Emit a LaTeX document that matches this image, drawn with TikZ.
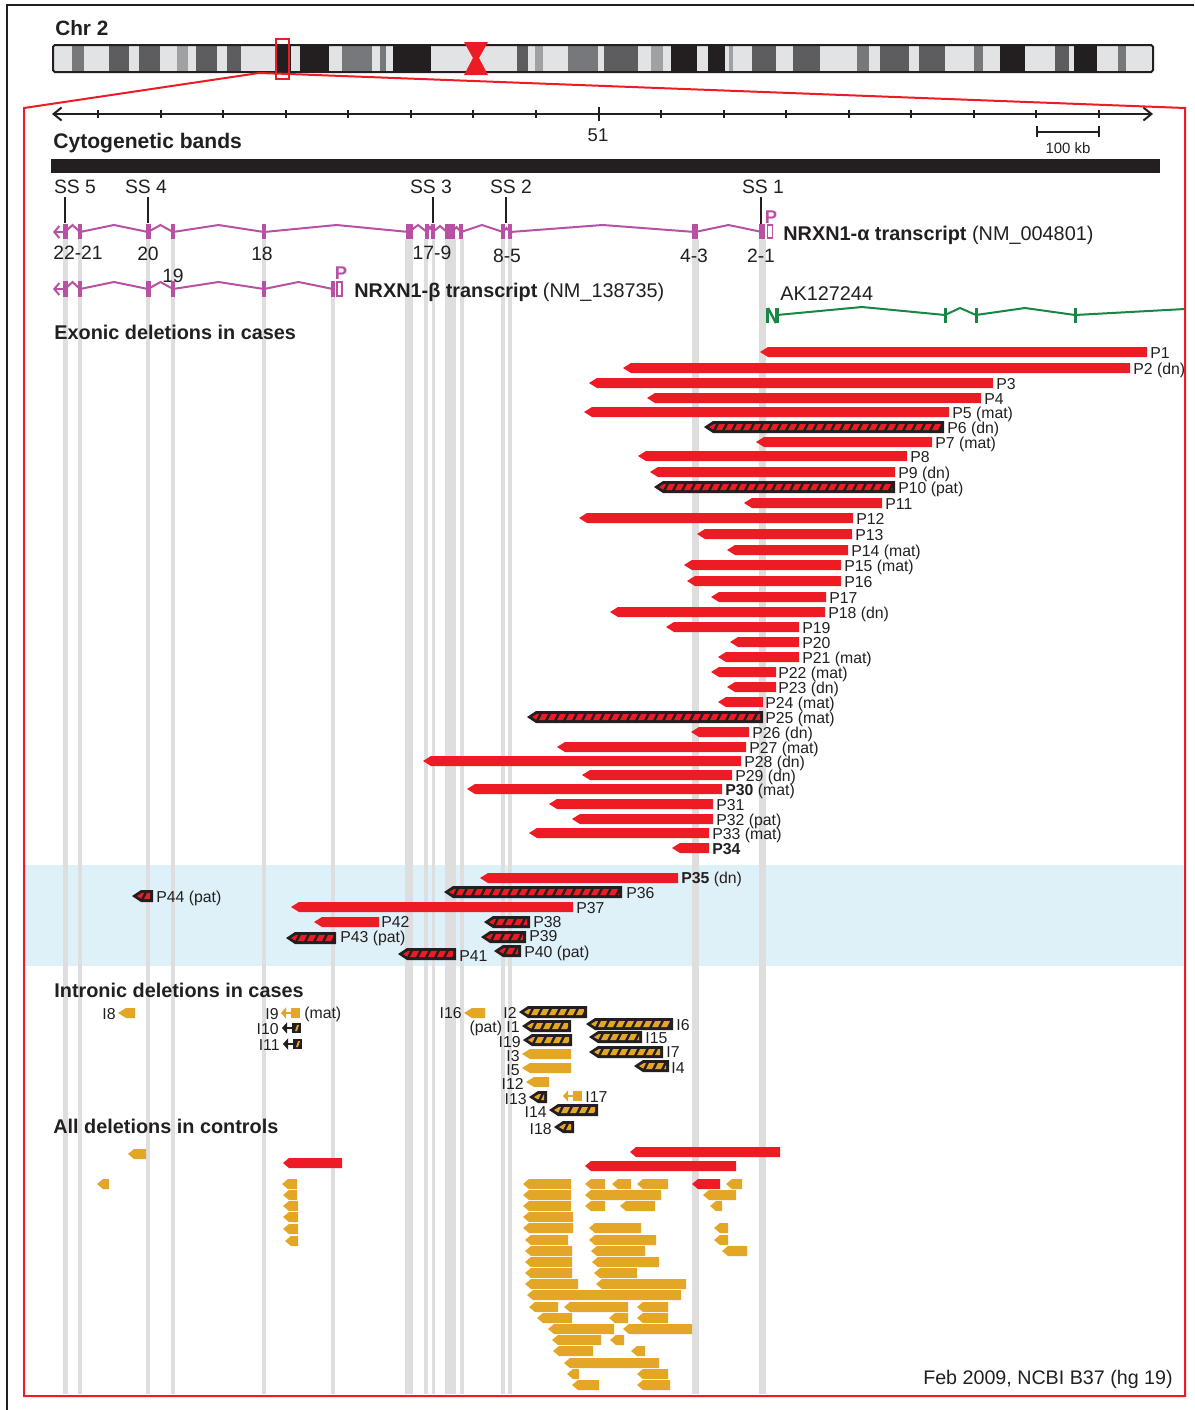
\documentclass[tikz,border=0pt]{standalone}
\usepackage{fontspec}
\setmainfont{Liberation Sans}
\usetikzlibrary{arrows.meta}

\definecolor{delred}{RGB}{237,28,36}
\definecolor{ctlorange}{RGB}{227,166,38}
\definecolor{darkbar}{RGB}{35,31,32}
\definecolor{trxmag}{RGB}{184,80,164}
\definecolor{akgreen}{RGB}{24,134,68}
\definecolor{bandblue}{RGB}{223,241,248}
\definecolor{guidegray}{RGB}{222,222,222}
\definecolor{chrlight}{RGB}{226,227,229}
\definecolor{chrmid}{RGB}{160,161,164}
\definecolor{chrgray}{RGB}{119,120,123}
\definecolor{chrdark}{RGB}{93,93,95}

% deletion bar pointing left: [colour](left:right:y)
\def\delbar[#1](#2:#3:#4){\fill[#1] (#2,#4) -- (#2+8,#4-5) -- (#3,#4-5) -- (#3,#4+5) -- (#2+8,#4+5) -- cycle;}
\def\ctlbar[#1](#2:#3:#4){\fill[#1] (#2,#4) -- (#2+6,#4-5) -- (#3,#4-5) -- (#3,#4+5) -- (#2+6,#4+5) -- cycle;}
% dark bar with slanted stripes: [stripe colour](left:right:y)
\def\hatchbar[#1](#2:#3:#4){%
  \fill[darkbar] (#2,#4) -- (#2+9,#4-6) -- (#3,#4-6) -- (#3,#4+6) -- (#2+9,#4+6) -- cycle;
  \begin{scope}
    \clip (#2+5,#4) -- (#2+10,#4-3) -- (#3-3,#4-3) -- (#3-3,#4+3) -- (#2+10,#4+3) -- cycle;
    \pgfmathtruncatemacro\nstripe{(#3-#2)/9+1}
    \foreach \k in {0,...,\nstripe}
      \fill[#1] ({#2+3+9*\k},#4+3) -- ++(6,0) -- ++(3,-6) -- ++(-6,0) -- cycle;
  \end{scope}}
% little arrow with box: [box colour][mark colour](right:y)
\def\boxarrow[#1][#2](#3:#4){%
  \fill[#1] (#3-9,#4-5) rectangle (#3,#4+5);
  \fill[#2] (#3-6,#4+3) -- (#3-4,#4+3) -- (#3-2,#4-3) -- (#3-4,#4-3) -- cycle;
  \draw[#1, line width=0.5mm, -{Triangle[length=1mm,width=2.2mm]}] (#3-9,#4) -- (#3-19,#4);}

\tikzset{
  plab/.style={font=\fontsize{9}{10}\selectfont, text=darkbar, inner sep=0pt, anchor=base west, yshift=-1.3mm},
  plabl/.style={plab, anchor=base east},
  numlab/.style={font=\fontsize{11}{13}\selectfont, text=darkbar, inner sep=0pt},
  head/.style={font=\bfseries\fontsize{11.3}{13}\selectfont, text=darkbar, inner sep=0pt, anchor=base west},
  trx/.style={trxmag, line width=0.4mm},
}

\begin{document}
\begin{tikzpicture}[x=0.02cm, y=-0.02cm]
%%%%% START %%%%%
\useasboundingbox (0,0) rectangle (1194,1410);

\draw[darkbar, line width=0.4mm] (7,1410) -- (7,5) -- (1194,5);

% chromosome 2
\fill[chrlight] (53,45) rectangle (1153,72);
\fill[chrgray] (72,45) rectangle (84,72);
\fill[chrdark] (109,45) rectangle (129,72);
\fill[chrdark] (139,45) rectangle (160,72);
\fill[chrmid] (177,45) rectangle (188,72);
\fill[chrdark] (196,45) rectangle (217,72);
\fill[chrdark] (227,45) rectangle (241,72);
\fill[darkbar] (276,45) rectangle (291,72);
\fill[darkbar] (300,45) rectangle (329,72);
\fill[chrgray] (342,45) rectangle (372,72);
\fill[chrgray] (380,45) rectangle (386,72);
\fill[darkbar] (393,45) rectangle (431,72);
\fill[chrdark] (517,45) rectangle (528,72);
\fill[chrmid] (535,45) rectangle (543,72);
\fill[chrgray] (568,45) rectangle (598,72);
\fill[chrdark] (604,45) rectangle (638,72);
\fill[chrmid] (651,45) rectangle (663,72);
\fill[darkbar] (671,45) rectangle (697,72);
\fill[darkbar] (708,45) rectangle (725,72);
\fill[chrmid] (729,45) rectangle (733,72);
\fill[chrdark] (752,45) rectangle (776,72);
\fill[chrdark] (793,45) rectangle (820,72);
\fill[chrgray] (857,45) rectangle (869,72);
\fill[chrdark] (880,45) rectangle (909,72);
\fill[chrdark] (919,45) rectangle (945,72);
\fill[chrgray] (974,45) rectangle (983,72);
\fill[darkbar] (1000,45) rectangle (1025,72);
\fill[chrdark] (1055,45) rectangle (1069,72);
\fill[darkbar] (1074,45) rectangle (1097,72);
\fill[chrgray] (1118,45) rectangle (1126,72);
\draw[darkbar, line width=0.4mm, rounded corners=1pt] (53,45) rectangle (1153,72);
\fill[delred] (464,42) -- (488,42) -- (479,58) -- (488,75) -- (464,75) -- (473,58) -- cycle;
\node[head, font=\bfseries\fontsize{11.8}{14}\selectfont] (chr) at (55,35) {Chr 2};

% light blue band and exon guides
\fill[bandblue] (25,865) rectangle (1184,966);
\fill[guidegray] (62.5,239) rectangle (67.5,1394);
\fill[guidegray] (78,239) rectangle (82,1394);
\fill[guidegray] (146,239) rectangle (150,1394);
\fill[guidegray] (171,239) rectangle (175,1394);
\fill[guidegray] (262,239) rectangle (266,1394);
\fill[guidegray] (331,296) rectangle (335,1394);
\fill[guidegray] (405,239) rectangle (413,1394);
\fill[guidegray] (424,239) rectangle (428,1394);
\fill[guidegray] (431.5,239) rectangle (434.5,1394);
\fill[guidegray] (444.5,239) rectangle (455.5,1394);
\fill[guidegray] (459.5,239) rectangle (463.5,1394);
\fill[guidegray] (501,239) rectangle (505,1394);
\fill[guidegray] (508,239) rectangle (512,1394);
\fill[guidegray] (691.5,239) rectangle (698.5,1394);
\fill[guidegray] (758.5,239) rectangle (765.5,1394);

% scale
\draw[darkbar, line width=0.4mm, {Straight Barb[length=1.6mm,width=2.6mm]}-{Straight Barb[length=1.6mm,width=2.6mm]}] (52,114) -- (1153,114);
\draw[darkbar, line width=0.4mm] (98,110) -- (98,118);
\draw[darkbar, line width=0.4mm] (160.6,110) -- (160.6,118);
\draw[darkbar, line width=0.4mm] (223.1,110) -- (223.1,118);
\draw[darkbar, line width=0.4mm] (285.7,110) -- (285.7,118);
\draw[darkbar, line width=0.4mm] (348.2,110) -- (348.2,118);
\draw[darkbar, line width=0.4mm] (410.8,110) -- (410.8,118);
\draw[darkbar, line width=0.4mm] (473.4,110) -- (473.4,118);
\draw[darkbar, line width=0.4mm] (535.9,110) -- (535.9,118);
\draw[darkbar, line width=0.4mm] (598.5,107) -- (598.5,121);
\draw[darkbar, line width=0.4mm] (661,110) -- (661,118);
\draw[darkbar, line width=0.4mm] (723.6,110) -- (723.6,118);
\draw[darkbar, line width=0.4mm] (786.2,110) -- (786.2,118);
\draw[darkbar, line width=0.4mm] (848.7,110) -- (848.7,118);
\draw[darkbar, line width=0.4mm] (911.3,110) -- (911.3,118);
\draw[darkbar, line width=0.4mm] (973.8,110) -- (973.8,118);
\draw[darkbar, line width=0.4mm] (1036.4,110) -- (1036.4,118);
\draw[darkbar, line width=0.4mm] (1099,110) -- (1099,118);
\node[font=\fontsize{10.5}{12}\selectfont, text=darkbar, inner sep=0pt] (mb) at (598,135) {51};
\draw[darkbar, line width=0.4mm] (1037,126) -- (1037,137);
\draw[darkbar, line width=0.4mm] (1099,126) -- (1099,137);
\draw[darkbar, line width=0.4mm] (1037,131.5) -- (1099,131.5);
\node[font=\fontsize{8.5}{10}\selectfont, text=darkbar, inner sep=0pt] (kb) at (1068,148) {100 kb};

% cytogenetic bands
\node[head, font=\bfseries\fontsize{12}{14}\selectfont] (cyto) at (53,148) {Cytogenetic bands};
\fill[darkbar] (51,159) rectangle (1160,173);

% splice sites
\node[numlab] (ss5) at (75,187) {SS 5};
\node[numlab] (ss4) at (146,187) {SS 4};
\node[numlab] (ss3) at (431,187) {SS 3};
\node[numlab] (ss2) at (511,187) {SS 2};
\node[numlab] (ss1) at (763,187) {SS 1};
\draw[darkbar, line width=0.4mm] (65,197) -- (65,223);
\draw[darkbar, line width=0.4mm] (148,197) -- (148,223);
\draw[darkbar, line width=0.4mm] (433,197) -- (433,223);
\draw[darkbar, line width=0.4mm] (506,197) -- (506,223);
\draw[darkbar, line width=0.4mm] (761,197) -- (761,224);

% NRXN1-alpha
\draw[trx, {Straight Barb[length=1mm,width=2.4mm]}-] (53,232) -- (65,232);
\draw[trx] (65,232) -- (72.5,225) -- (80,232) -- (114,225) -- (148,232) -- (160.5,225) -- (173,232) -- (218.5,225) -- (264,232) -- (336.5,225) -- (409,232) -- (418,225) -- (427,232) -- (430,227) -- (433,232) -- (440,226) -- (447,232) -- (452,232) -- (456.5,227) -- (461,232) -- (482,225) -- (503,232) -- (506.5,228) -- (510,232) -- (602.5,225) -- (695,232) -- (728.5,225) -- (762,232);
\fill[trxmag] (62.5,224) rectangle (67.5,239);
\fill[trxmag] (78,224) rectangle (82,239);
\fill[trxmag] (145.5,224) rectangle (150.5,239);
\fill[trxmag] (171,224) rectangle (175,239);
\fill[trxmag] (262,224) rectangle (266,239);
\fill[trxmag] (405.5,224) rectangle (412.5,239);
\fill[trxmag] (425,224) rectangle (429,239);
\fill[trxmag] (431,224) rectangle (435,239);
\fill[trxmag] (445,224) rectangle (454.5,239);
\fill[trxmag] (459,224) rectangle (463,239);
\fill[trxmag] (501,224) rectangle (505,239);
\fill[trxmag] (508,224) rectangle (512,239);
\fill[trxmag] (692,224) rectangle (698,239);
\fill[trxmag] (759,224) rectangle (765,239);
\draw[trxmag, line width=0.3mm] (767.5,225) rectangle (772.5,238);
\node[text=trxmag, font=\bfseries\fontsize{10.5}{12}\selectfont, inner sep=0pt] (pa) at (771,217) {P};
\node[font=\fontsize{11.3}{13}\selectfont, text=darkbar, inner sep=0pt, anchor=base west] (alpha) at (783,240) {\textbf{NRXN1-α transcript} (NM\_004801)};
\node[numlab] (e2221) at (78,253) {22-21};
\node[numlab] (e20) at (148,254) {20};
\node[numlab] (e18) at (262,254) {18};
\node[numlab] (e179) at (432,253) {17-9};
\node[numlab] (e85) at (507,256) {8-5};
\node[numlab] (e43) at (694,256) {4-3};
\node[numlab] (e21) at (761,256) {2-1};
\node[numlab] (e19) at (173,276) {19};

% NRXN1-beta
\draw[trx, {Straight Barb[length=1mm,width=2.4mm]}-] (53,289) -- (65,289);
\draw[trx] (65,289) -- (72.5,282) -- (80,289) -- (114,282) -- (148,289) -- (160.5,282) -- (173,289) -- (218.5,282) -- (264,289) -- (298.5,282) -- (333,289);
\fill[trxmag] (62.5,281) rectangle (67.5,297);
\fill[trxmag] (78,281) rectangle (82,297);
\fill[trxmag] (145.5,281) rectangle (150.5,297);
\fill[trxmag] (171,281) rectangle (175,297);
\fill[trxmag] (262,281) rectangle (266,297);
\fill[trxmag] (330.5,281) rectangle (335,297);
\draw[trxmag, line width=0.3mm] (337,282) rectangle (342,296);
\node[text=trxmag, font=\bfseries\fontsize{10.5}{12}\selectfont, inner sep=0pt] (pb) at (341,273) {P};
\node[font=\fontsize{11.3}{13}\selectfont, text=darkbar, inner sep=0pt, anchor=base west] (beta) at (354,297) {\textbf{NRXN1-β transcript} (NM\_138735)};

% AK127244
\node[font=\fontsize{11.3}{13}\selectfont, text=darkbar, inner sep=0pt, anchor=base west] (ak) at (780,300) {AK127244};
\draw[akgreen, line width=0.4mm] (777,315) -- (862,307) -- (945,315) -- (960,308) -- (976,315) -- (1025,308) -- (1075,315) -- (1185,309);
\fill[akgreen] (765.5,308) rectangle (769,323);
\fill[akgreen] (775,308) rectangle (778.5,323);
\draw[akgreen, line width=0.5mm] (768,308) -- (776,323);
\fill[akgreen] (943.5,308) rectangle (946.5,323);
\fill[akgreen] (974.5,308) rectangle (977.5,323);
\fill[akgreen] (1073.5,308) rectangle (1076.5,323);

% exonic deletions in cases
\node[head] (hexon) at (54,339) {Exonic deletions in cases};
\delbar[delred](760:1147:352)   \node[plab] (p1) at (1150,352) {P1};
\delbar[delred](623:1130:368)   \node[plab] (p2) at (1133,368) {P2 (dn)};
\delbar[delred](589:993:383)    \node[plab] (p3) at (996,383) {P3};
\delbar[delred](647:981:398)    \node[plab] (p4) at (984,398) {P4};
\delbar[delred](584:949:412)    \node[plab] (p5) at (952,412) {P5 (mat)};
\hatchbar[delred](704:944:427)  \node[plab] (p6) at (947,427) {P6 (dn)};
\delbar[delred](756:932:442)    \node[plab] (p7) at (935,442) {P7 (mat)};
\delbar[delred](638:907:456)    \node[plab] (p8) at (910,456) {P8};
\delbar[delred](650:895:472)    \node[plab] (p9) at (898,472) {P9 (dn)};
\hatchbar[delred](654:895:487)  \node[plab] (p10) at (898,487) {P10 (pat)};
\delbar[delred](744:882:503)    \node[plab] (p11) at (885,503) {P11};
\delbar[delred](579:853:518)    \node[plab] (p12) at (856,518) {P12};
\delbar[delred](697:852:534)    \node[plab] (p13) at (855,534) {P13};
\delbar[delred](727:848:550)    \node[plab] (p14) at (851,550) {P14 (mat)};
\delbar[delred](684:841:565)    \node[plab] (p15) at (844,565) {P15 (mat)};
\delbar[delred](687:841:581)    \node[plab] (p16) at (844,581) {P16};
\delbar[delred](711:826:597)    \node[plab] (p17) at (829,597) {P17};
\delbar[delred](610:825:612)    \node[plab] (p18) at (828,612) {P18 (dn)};
\delbar[delred](666:799:627)    \node[plab] (p19) at (802,627) {P19};
\delbar[delred](730:799:642)    \node[plab] (p20) at (802,642) {P20};
\delbar[delred](718:799:657)    \node[plab] (p21) at (802,657) {P21 (mat)};
\delbar[delred](711:776:672)    \node[plab] (p22) at (778,672) {P22 (mat)};
\delbar[delred](727:776:687)    \node[plab] (p23) at (778,687) {P23 (dn)};
\delbar[delred](718:763:702)    \node[plab] (p24) at (765,702) {P24 (mat)};
\hatchbar[delred](527:763:717)  \node[plab] (p25) at (765,717) {P25 (mat)};
\delbar[delred](691:749:732)    \node[plab] (p26) at (752,732) {P26 (dn)};
\delbar[delred](557:746:747)    \node[plab] (p27) at (749,747) {P27 (mat)};
\delbar[delred](423:741:761)    \node[plab] (p28) at (744,761) {P28 (dn)};
\delbar[delred](582:732:775)    \node[plab] (p29) at (735,775) {P29 (dn)};
\delbar[delred](467:722:789)    \node[plab] (p30) at (725,789) {\textbf{P30} (mat)};
\delbar[delred](549:713:804)    \node[plab] (p31) at (716,804) {P31};
\delbar[delred](572:713:819)    \node[plab] (p32) at (716,819) {P32 (pat)};
\delbar[delred](529:709:833)    \node[plab] (p33) at (712,833) {P33 (mat)};
\delbar[delred](672:709:848)    \node[plab] (p34) at (712,848) {\textbf{P34}};

% inside the blue band
\delbar[delred](480:678:878)    \node[plab] (p35) at (681,877) {\textbf{P35} (dn)};
\hatchbar[delred](444:622:892)  \node[plab] (p36) at (626,892) {P36};
\delbar[delred](291:573:907)    \node[plab] (p37) at (576,907) {P37};
\hatchbar[delred](484:530:922)  \node[plab] (p38) at (533,921) {P38};
\hatchbar[delred](481:526:937)  \node[plab] (p39) at (529,935) {P39};
\hatchbar[delred](494:521:951)  \node[plab] (p40) at (524,951) {P40 (pat)};
\hatchbar[delred](398:456:954)  \node[plab] (p41) at (459,955) {P41};
\delbar[delred](314:379:922)    \node[plab] (p42) at (381,921) {P42};
\hatchbar[delred](286:336:938)  \node[plab] (p43) at (340,936) {P43 (pat)};
\hatchbar[delred](132:153:896)  \node[plab] (p44) at (156,896) {P44 (pat)};

% intronic deletions in cases
\node[head] (hintron) at (54,997) {Intronic deletions in cases};
\delbar[ctlorange](118:135:1013)     \node[plabl] (i8) at (116,1013) {I8};
\boxarrow[ctlorange][ctlorange](300:1013) \node[plabl] (i9) at (279,1013) {I9};
\node[plab] (i9m) at (304,1012) {(mat)};
\boxarrow[darkbar][ctlorange](301:1028)   \node[plabl] (i10) at (279,1028) {I10};
\boxarrow[darkbar][ctlorange](302:1044)   \node[plabl] (i11) at (280,1044) {I11};
\delbar[ctlorange](464:485:1013)     \node[plabl] (i16) at (462,1012) {I16};
\hatchbar[ctlorange](519:587:1012)   \node[plabl] (i2) at (517,1012) {I2};
\hatchbar[ctlorange](522:571:1026)   \node[plabl] (i1) at (520,1026) {(pat) I1};
\hatchbar[ctlorange](523:572:1040)   \node[plabl] (i19) at (521,1041) {I19};
\hatchbar[ctlorange](586:673:1024)   \node[plab] (i6) at (676,1024) {I6};
\hatchbar[ctlorange](589:642:1037)   \node[plab] (i15) at (645,1037) {I15};
\hatchbar[ctlorange](589:663:1052)   \node[plab] (i7) at (666,1051) {I7};
\delbar[ctlorange](522:571:1054)     \node[plabl] (i3) at (520,1055) {I3};
\delbar[ctlorange](522:571:1068)     \node[plabl] (i5) at (520,1069) {I5};
\hatchbar[ctlorange](634:669:1066)   \node[plab] (i4) at (671,1067) {I4};
\delbar[ctlorange](526:549:1082)     \node[plabl] (i12) at (524,1083) {I12};
\hatchbar[ctlorange](529:547:1097)   \node[plabl] (i13) at (527,1098) {I13};
\boxarrow[ctlorange][ctlorange](582:1096) \node[plab] (i17) at (585,1096) {I17};
\hatchbar[ctlorange](549:598:1110)   \node[plabl] (i14) at (547,1111) {I14};
\hatchbar[ctlorange](554:574:1127)   \node[plabl] (i18) at (552,1128) {I18};

% all deletions in controls
\node[head] (hctrl) at (53,1133) {All deletions in controls};
\ctlbar[ctlorange](128:146:1154)
\ctlbar[ctlorange](97:109:1184)
\ctlbar[delred](283:342:1163)
\ctlbar[ctlorange](282:297:1184)
\ctlbar[ctlorange](283:297:1195)
\ctlbar[ctlorange](283:298:1206)
\ctlbar[ctlorange](283:298:1217)
\ctlbar[ctlorange](283:298:1229)
\ctlbar[ctlorange](285:298:1241)
\ctlbar[delred](630:780:1152)
\ctlbar[delred](585:736:1166)
\ctlbar[delred](692:720:1184)
\ctlbar[ctlorange](523:571:1184) \ctlbar[ctlorange](585:605:1184) \ctlbar[ctlorange](612:631:1184) \ctlbar[ctlorange](637:668:1184) \ctlbar[ctlorange](726:742:1184)
\ctlbar[ctlorange](523:571:1195) \ctlbar[ctlorange](585:661:1195) \ctlbar[ctlorange](703:736:1195)
\ctlbar[ctlorange](523:571:1206) \ctlbar[ctlorange](585:605:1206) \ctlbar[ctlorange](620:655:1206) \ctlbar[ctlorange](710:722:1206)
\ctlbar[ctlorange](523:573:1217)
\ctlbar[ctlorange](523:573:1228) \ctlbar[ctlorange](589:641:1228) \ctlbar[ctlorange](714:728:1228)
\ctlbar[ctlorange](525:568:1240) \ctlbar[ctlorange](589:656:1240) \ctlbar[ctlorange](714:728:1240)
\ctlbar[ctlorange](525:572:1251) \ctlbar[ctlorange](591:645:1251) \ctlbar[ctlorange](722:747:1251)
\ctlbar[ctlorange](525:572:1262) \ctlbar[ctlorange](592:659:1262)
\ctlbar[ctlorange](525:572:1273) \ctlbar[ctlorange](594:637:1273)
\ctlbar[ctlorange](525:578:1284) \ctlbar[ctlorange](596:686:1284)
\ctlbar[ctlorange](527:681:1295)
\ctlbar[ctlorange](529:558:1307) \ctlbar[ctlorange](564:628:1307) \ctlbar[ctlorange](637:668:1307)
\ctlbar[ctlorange](537:572:1318) \ctlbar[ctlorange](609:628:1318) \ctlbar[ctlorange](637:668:1318)
\ctlbar[ctlorange](548:614:1329) \ctlbar[ctlorange](623:692:1329)
\ctlbar[ctlorange](552:601:1340) \ctlbar[ctlorange](610:624:1340)
\ctlbar[ctlorange](553:593:1351) \ctlbar[ctlorange](631:645:1351)
\ctlbar[ctlorange](564:659:1363)
\ctlbar[ctlorange](567:579:1374) \ctlbar[ctlorange](637:668:1374)
\ctlbar[ctlorange](572:599:1385) \ctlbar[ctlorange](637:670:1385)

\node[font=\fontsize{11.2}{13}\selectfont, text=darkbar, inner sep=0pt, anchor=base east] (build) at (1173,1384) {Feb 2009, NCBI B37 (hg 19)};

% zoom frame
\draw[delred, line width=0.3mm] (276,39) rectangle (289,79);
\draw[delred, line width=0.4mm] (24,1396) -- (24,108) -- (259,73) -- (289,74) -- (1185,108) -- (1185,1396) -- cycle;
%%%%% END %%%%%
\end{tikzpicture}
\end{document}
